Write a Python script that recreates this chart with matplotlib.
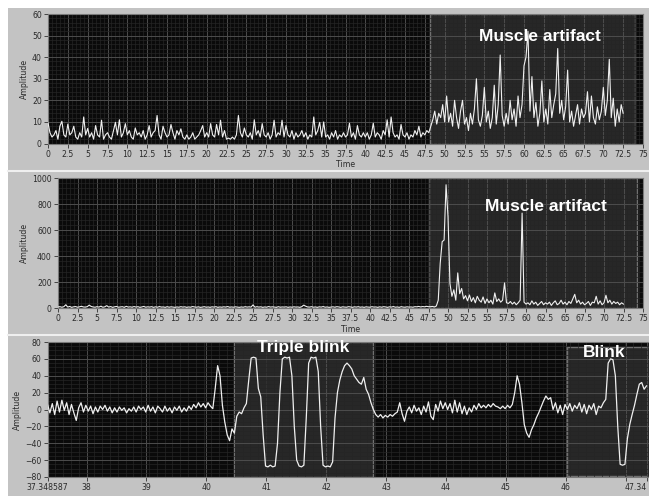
import numpy as np
import matplotlib.pyplot as plt
from matplotlib.ticker import MultipleLocator, AutoMinorLocator, FuncFormatter, FixedLocator
from matplotlib.lines import Line2D
from matplotlib.patches import Rectangle

W, H = 649, 496

# --- top two charts: amplitude sampled every 0.25 s from 0 to 72.5 s ---
time_top = np.arange(0, 72.5 + 1e-6, 0.25)

amp_top_rest = [
    9.5, 5, 3, 4, 6, 2, 8, 10.3, 4, 3,
    9, 4, 5, 8, 3, 2, 5, 3, 12.3, 4,
    7, 3, 5, 2, 8.3, 4, 3, 10.8, 2, 4,
    5, 3, 2, 6, 9.8, 4, 11, 3, 5, 9.2,
    4, 6, 3, 2, 7.2, 4, 5, 3, 6, 2,
    4, 8.3, 3, 5, 6, 13, 4, 2, 8, 5,
    3, 4, 8.8, 5, 2, 6, 4, 6.8, 3, 2,
    4, 2, 3, 5, 2, 3, 4, 6, 8.3, 3,
    5, 3, 9.2, 4, 3, 8.8, 4, 10.8, 3, 6,
    2, 2.5, 2, 3, 2, 4, 13, 5, 3, 7.2,
    4, 3, 5, 2, 11, 4, 6, 3, 9.2, 4,
    3, 5, 2, 4, 10.8, 3, 5, 4, 10.8, 3,
    8.3, 4, 3, 6, 2, 5, 3, 4, 6, 3,
    5, 2, 4, 3, 12.3, 4, 6, 9.8, 3, 10,
    3, 4, 2, 5, 3, 6, 2, 4, 3, 5,
    3, 4, 9.4, 3, 5, 2, 8.3, 4, 3, 5,
    3, 5, 2, 4, 9.4, 3, 5, 4, 2, 6,
    4, 11, 3, 12.3, 5, 3, 4, 2, 8.8, 4,
    3, 5, 2, 4, 3, 6, 4, 8, 3, 5,
    4,
]
amp_top_muscle = [
    6, 5, 8, 11, 15, 9, 14, 12, 18, 10,
    22, 10, 14, 8, 20, 12, 7, 15, 20, 9,
    12, 6, 14, 9, 16, 30, 11, 8, 13, 26,
    10, 15, 7, 12, 27, 9, 18, 41, 13, 8,
    14, 9, 20, 11, 16, 8, 22, 12, 18, 36,
    40, 52, 15, 31, 12, 19, 8, 14, 29, 10,
    16, 9, 25, 12, 18, 23, 44, 14, 20, 11,
    17, 34, 10, 15, 8, 13, 18, 9, 16, 12,
    14, 24, 10, 22, 12, 9, 17, 11, 15, 26,
    13, 20, 39, 12, 21, 8, 16, 10, 18, 14,
]

amp_mid_rest = [
    8, 10, 6, 10, 25, 7, 12, 5, 9, 11,
    6, 9, 13, 8, 7, 10, 22, 12, 8, 6,
    10, 7, 14, 6, 9, 18, 7, 11, 5, 9,
    12, 6, 8, 10, 5, 13, 7, 9, 6, 11,
    7, 10, 5, 8, 12, 6, 9, 7, 10, 5,
    9, 6, 11, 7, 8, 5, 10, 6, 9, 7,
    5, 8, 6, 10, 7, 9, 5, 8, 6, 11,
    8, 6, 9, 5, 7, 10, 6, 8, 5, 9,
    7, 10, 5, 8, 6, 9, 7, 11, 6, 8,
    6, 9, 7, 5, 8, 6, 10, 7, 9, 7,
    24, 6, 10, 7, 9, 5, 8, 6, 11, 7,
    9, 7, 5, 10, 6, 8, 7, 9, 5, 8,
    6, 9, 7, 8, 5, 10, 22, 14, 8, 7,
    10, 6, 8, 5, 9, 7, 11, 6, 8, 5,
    7, 9, 6, 10, 8, 5, 9, 7, 6, 10,
    8, 5, 9, 7, 10, 6, 8, 5, 9, 7,
    6, 10, 7, 8, 5, 9, 6, 10, 8, 5,
    9, 7, 11, 6, 8, 5, 10, 7, 6, 9,
    7, 8, 6, 10, 9, 12, 8, 11, 9, 13,
    10,
]
amp_mid_muscle = [
    10, 12, 8, 15, 60, 343, 510, 523, 948, 703,
    188, 90, 140, 60, 270, 110, 150, 70, 95, 55,
    100, 50, 80, 40, 90, 60, 45, 85, 35, 70,
    40, 60, 30, 116, 50, 70, 45, 60, 193, 40,
    35, 50, 30, 45, 25, 40, 60, 730, 45, 30,
    40, 25, 55, 30, 45, 20, 35, 50, 25, 40,
    30, 45, 20, 40, 55, 25, 35, 60, 30, 45,
    25, 50, 35, 70, 105, 40, 60, 30, 45, 25,
    35, 50, 20, 45, 40, 90, 30, 55, 25, 40,
    98, 40, 60, 30, 50, 35, 45, 25, 40, 30,
]

# --- bottom chart: EOG sampled every 0.04 s from 37.348587 s ---
eog_start = 37.348587
eog_amp = [
    6, -4, 7, -6, 10, -3, 11, -1, 8, -6,
    6, -4, -13, 2, 8, -3, 5, -2, 4, -5,
    3, -3, 4, 0, 5, -2, 3, -4, 2, -3,
    3, -1, 2, -4, 1, -2, 3, -3, 4, 0,
    3, -3, 5, -2, 3, -4, 4, 1, -3, 4,
    -2, 2, -4, 3, -1, 4, -3, 2, -2, 4,
    0, 6, 2, 8, 3, 7, 2, 8, 4, 1,
    25, 52, 40, 5, -15, -30, -37, -23, -28, -8,
    -3, -5, 2, 7, 35, 61, 62, 61, 25, 15,
    -30, -67, -68, -66, -68, -67, -40, 20, 60, 62,
    61, 62, 40, -20, -60, -67, -68, -66, -10, 55,
    62, 61, 62, 45, -20, -66, -68, -67, -68, -62,
    -10, 20, 35, 45, 52, 55, 52, 48, 40, 36,
    32, 30, 38, 24, 18, 8, 0, -6, -9, -6,
    -10, -7, -9, -6, -8, -5, -3, 8, -5, -14,
    -2, 3, -4, 5, -2, 2, -6, 4, -3, 9,
    -8, -12, 6, -2, 10, 1, 8, 0, 7, -4,
    11, -3, 8, -5, 4, -6, 2, -3, 5, 0,
    7, 2, 5, 2, 6, 3, 7, 4, 3, 1,
    4, 1, 5, 2, 6, 20, 40, 30, 8, -18,
    -28, -33, -24, -18, -10, -4, 3, 10, 16, 12,
    14, 0, 8, -4, 5, -6, 6, 0, 7, -2,
    5, 1, 8, -3, 6, -5, 5, 0, 7, -6,
    4, 2, 8, 12, 55, 60, 59, 40, -20, -65,
    -66, -65, -35, -18, -6, 5, 18, 30, 32, 24,
    28,
]
eog_ticks = [eog_start, 38, 39, 40, 41, 42, 43, 44, 45, 46, 47, 47.348587]
eog_tick_labels = ["37.348587", "38", "39", "40", "41", "42", "43", "44", "45", "46", "", "47.34"]

amp_top = np.array(amp_top_rest + amp_top_muscle)
amp_mid = np.array(amp_mid_rest + amp_mid_muscle)
eog_time = eog_start + 0.04 * np.arange(len(eog_amp))

BG = "#c3c3c3"
TXT = "#2a2a2a"
plt.rcParams["font.family"] = "DejaVu Sans"

fig = plt.figure(figsize=(W / 100, H / 100), dpi=100, facecolor="white")
fig.add_artist(Rectangle((8 / W, 0), 1 - 8 / W, 1 - 8 / H, transform=fig.transFigure,
                         facecolor=BG, edgecolor="none", zorder=-10))
for yp in (170.5, 335):
    fig.add_artist(Line2D([8 / W, 1], [1 - yp / H] * 2, color="#efefef", lw=1.5))


def px_axes(left, top, right, bottom):
    return fig.add_axes([left / W, 1 - bottom / H, (right - left) / W, (bottom - top) / H])


def style(ax, xminor, yminor):
    ax.set_facecolor("#0a0a0a")
    ax.xaxis.set_minor_locator(AutoMinorLocator(xminor))
    ax.yaxis.set_minor_locator(AutoMinorLocator(yminor))
    ax.grid(True, which="major", color="#4d4d4d", lw=0.7)
    ax.grid(True, which="minor", color="#252525", lw=0.5)
    ax.tick_params(which="major", length=3, width=0.7, color="#444444", labelsize=5.6,
                   labelcolor=TXT, pad=1.5)
    ax.tick_params(which="minor", length=0)
    for s in ax.spines.values():
        s.set_color("#7a7a7a")
        s.set_linewidth(0.8)
    ax.set_ylabel("Amplitude", fontsize=5.6, color=TXT, labelpad=2)


fmt = FuncFormatter(lambda v, p: f"{v:g}")
label_font = dict(family="Liberation Sans", weight="bold", color="white", fontsize=12.5)

# --- chart 1 ---
ax1 = px_axes(48, 14, 643, 143.5)
style(ax1, 5, 5)
ax1.add_patch(Rectangle((48.15, 0), 74.0 - 48.15, 60, facecolor=(1, 1, 1, 0.12),
                        edgecolor="#707070", lw=1, zorder=1))
ax1.plot(time_top, amp_top, color="#f0f0f0", lw=0.8, zorder=3)
ax1.set_xlim(0, 75)
ax1.set_ylim(0, 60)
ax1.xaxis.set_major_locator(MultipleLocator(2.5))
ax1.xaxis.set_major_formatter(fmt)
ax1.yaxis.set_major_locator(MultipleLocator(10))
ax1.set_xlabel("Time", fontsize=5.6, color=TXT, labelpad=1)
ax1.text(62.0, 49.5, "Muscle artifact", ha="center", va="center", zorder=4, **label_font)

# --- chart 2 ---
ax2 = px_axes(58, 178, 643, 308)
style(ax2, 5, 5)
ax2.add_patch(Rectangle((47.6, 0), 74.2 - 47.6, 1000, facecolor=(1, 1, 1, 0.12),
                        edgecolor="#707070", lw=1, zorder=1))
ax2.plot(time_top, amp_mid, color="#f0f0f0", lw=0.8, zorder=3)
ax2.set_xlim(0, 75)
ax2.set_ylim(0, 1000)
ax2.xaxis.set_major_locator(MultipleLocator(2.5))
ax2.xaxis.set_major_formatter(fmt)
ax2.yaxis.set_major_locator(MultipleLocator(200))
ax2.set_xlabel("Time", fontsize=5.6, color=TXT, labelpad=1)
ax2.text(62.5, 782, "Muscle artifact", ha="center", va="center", zorder=4, **label_font)

# --- chart 3 ---
ax3 = px_axes(47.5, 342, 649, 477)
style(ax3, 5, 4)
ax3.add_patch(Rectangle((40.46, -80), 42.78 - 40.46, 160, facecolor=(1, 1, 1, 0.12),
                        edgecolor="#707070", lw=1, zorder=1))
ax3.add_patch(Rectangle((46.02, -79), 48 - 46.02, 153, facecolor=(1, 1, 1, 0.12),
                        edgecolor="#707070", lw=1, zorder=1))
ax3.plot(eog_time, eog_amp, color="#f0f0f0", lw=0.9, zorder=3)
ax3.set_xlim(eog_start, eog_start + (649 - 47.5) / 59.9)
ax3.set_ylim(-80, 80)
ax3.xaxis.set_major_locator(FixedLocator(eog_ticks))
ax3.set_xticklabels(eog_tick_labels)
# the last label is cut by the window edge in the original; keep it inside here
ax3.get_xticklabels()[-1].set_horizontalalignment("right")
ax3.yaxis.set_major_locator(MultipleLocator(20))
ax3.text(41.61, 73, "Triple blink", ha="center", va="center", zorder=4, **label_font)
ax3.text(46.65, 67, "Blink", ha="center", va="center", zorder=4, **label_font)

fig.savefig("out.png", dpi=100, facecolor=fig.get_facecolor())
